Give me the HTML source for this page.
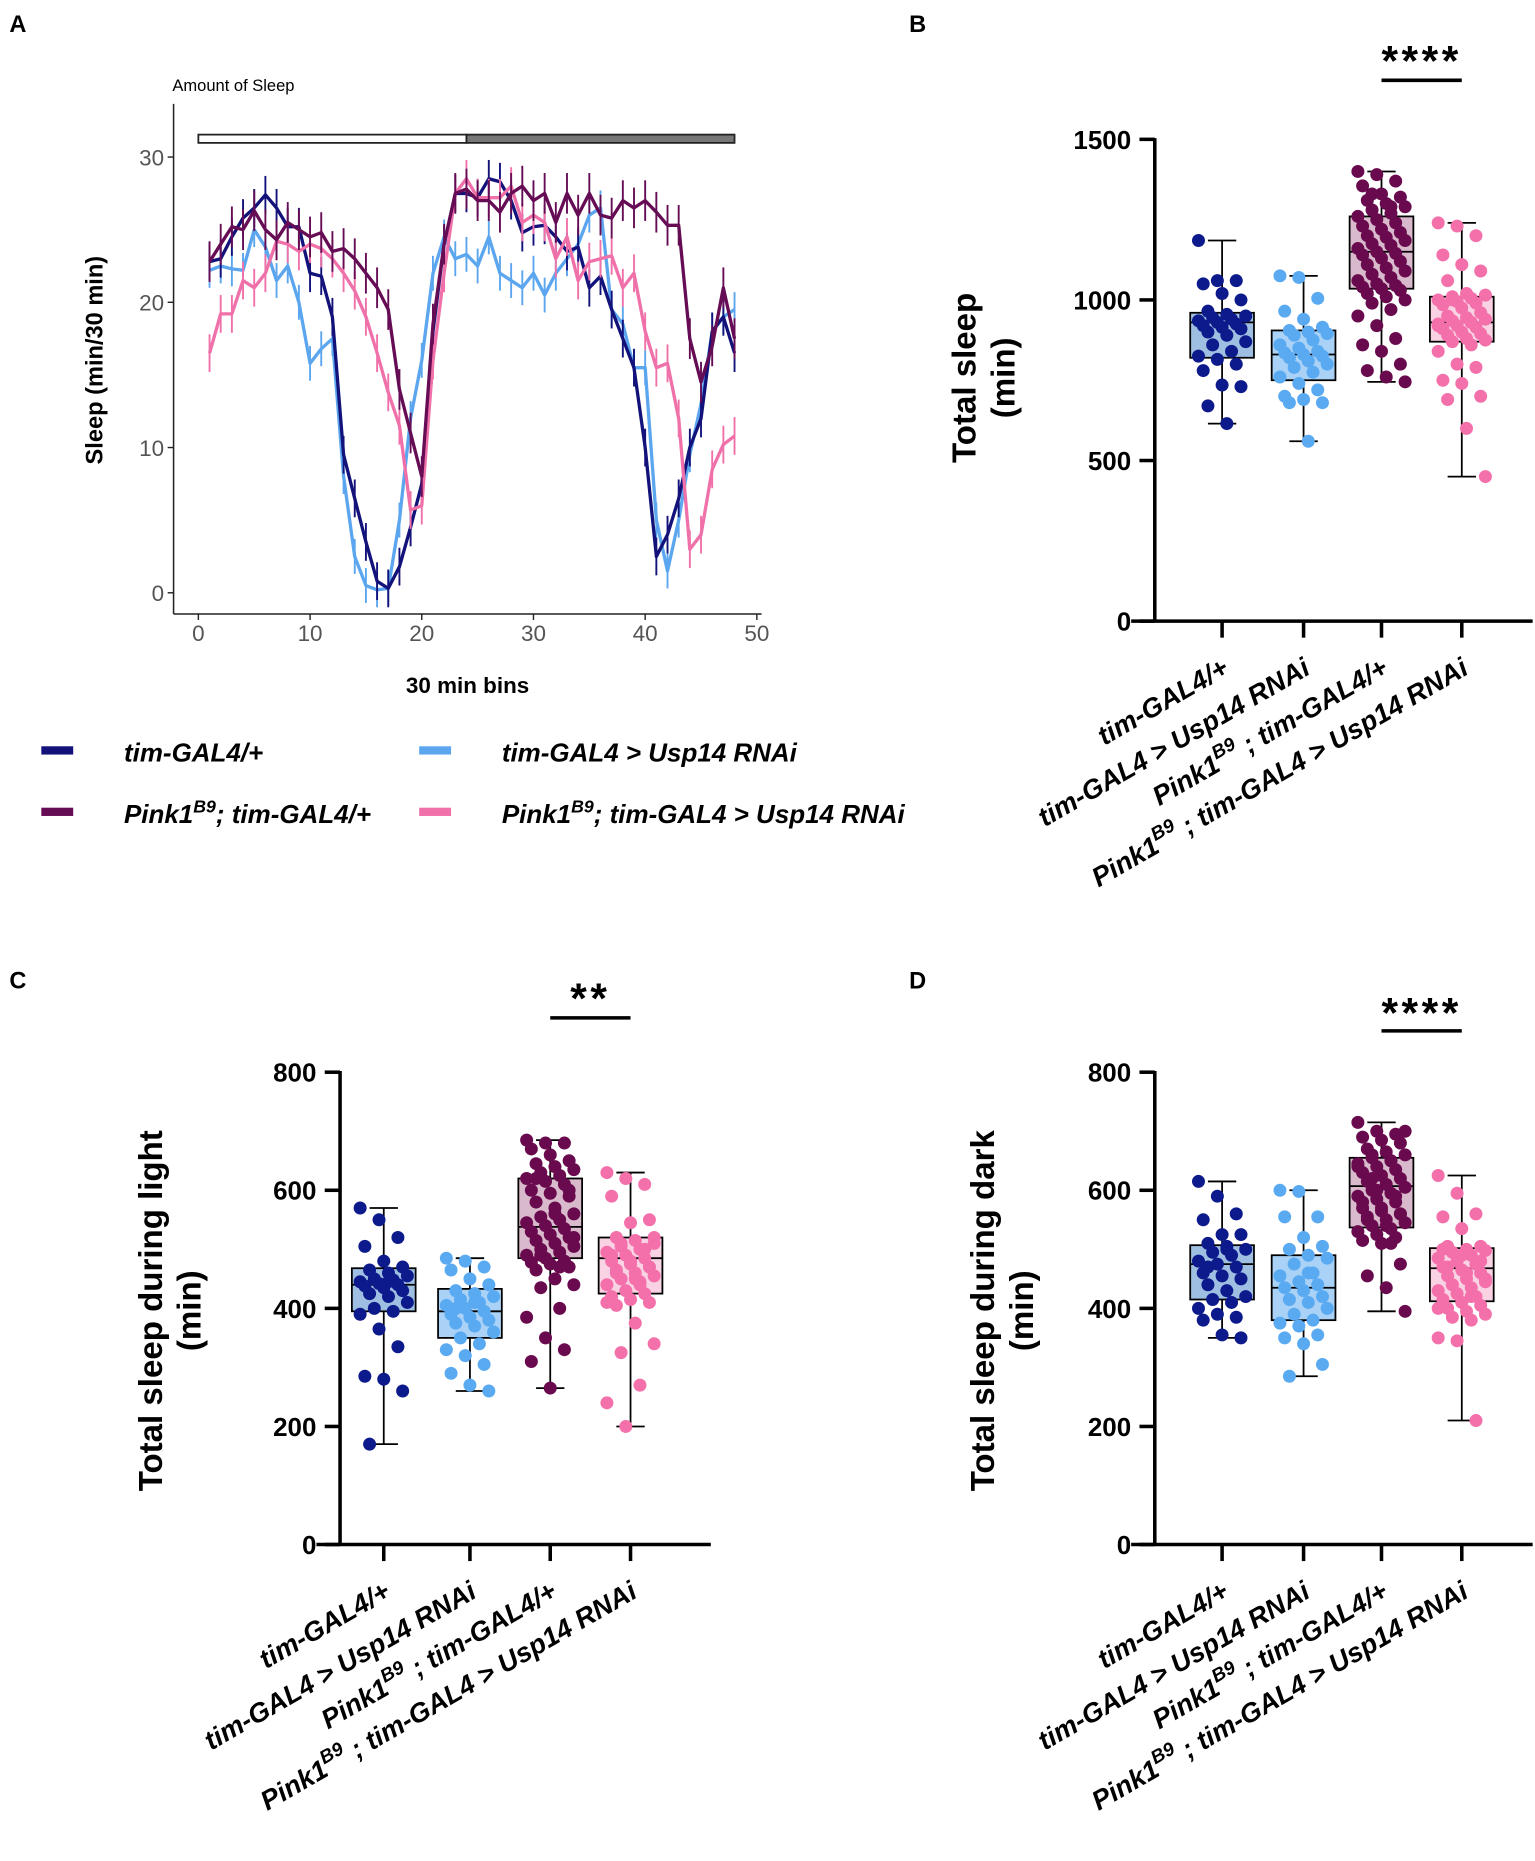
<!DOCTYPE html>
<html><head><meta charset="utf-8">
<style>
html,body{margin:0;padding:0;background:#fff;}
svg{display:block;}
text{font-family:"Liberation Sans",Arial,sans-serif;}
</style></head>
<body>
<svg id="fig" width="1535" height="1861" viewBox="0 0 1300 1576" preserveAspectRatio="none" xmlns="http://www.w3.org/2000/svg"></svg>
<script>
// ---------- Panel A data ----------
const bins = [1,2,3,4,5,6,7,8,9,10,11,12,13,14,15,16,17,18,19,20,21,22,23,24,25,26,27,28,29,30,31,32,33,34,35,36,37,38,39,40,41,42,43,44,45,46,47,48];
const timGal = [22.8,23,24.5,25.8,26.5,27.4,26.5,25.2,25.2,22,21.8,19,9.5,6.5,3.5,0.8,0.3,1.8,4.5,7.5,18,24,27.5,27.5,27.2,28.5,28.3,27,24.8,25.2,25.3,24.5,23.5,23.8,21,21.8,19.5,17.5,15.5,10,2.5,4,6.5,10,12,18,19,16.5];
const timUsp = [22.2,22.5,22.3,22.2,25,23.8,21.5,22.5,20,15.8,16.8,17.5,8,2.5,0.5,0.2,0.3,5,12,16,22,24.5,23,23.3,22.5,24.5,22,21.5,21,22,20.5,22,23,24,26,26.5,19.5,18.5,15.5,15.5,5,1.5,5,9.5,13,18,19,19.5];
const pinkTim = [22.8,24,25.2,25,26.3,25,24.3,25.5,25,24.5,24.8,23.5,23.7,23,22,21,19.5,14,11,8,18.5,24,27.5,27.8,27,27,26.2,27.5,28,27,27.5,25.5,27.5,26,27.5,26,25.8,27,26.5,27,26.2,25.3,25.3,17.5,14.5,17,21,17.5];
const pinkUsp = [16.5,19.2,19.2,21.5,21,22,24.2,24,23.5,24,23.7,23,22,20.8,19,16.5,13.8,11.5,5.7,6,16,22,27.5,28.5,27.2,27.2,27.2,28,25.5,26,25.5,23,24.5,21.5,22.8,23,23.2,21,22,18,15.5,15.8,12,3,4,8.5,10.2,10.8];
const semA = [1.3,1.2,1.4,1.3];
const xTicksA = [0,10,20,30,40,50];
const yTicksA = [0,10,20,30];

// ---------- Box-plot data ----------
const groups = ["tim-GAL4/+","tim-GAL4 > Usp14 RNAi","Pink1B9 ; tim-GAL4/+","Pink1B9 ; tim-GAL4 > Usp14 RNAi"];
const statsB = [[615,820,930,960,1185],[560,750,830,905,1075],[745,1035,1150,1260,1400],[450,870,930,1010,1240]];
const ptsB1 = [1185,1060,1060,1050,1020,1000,965,955,950,945,940,935,930,925,920,915,910,900,890,870,860,840,825,815,800,780,735,730,670,615];
const ptsB2 = [1075,1070,1005,965,940,915,905,900,895,890,875,860,850,840,835,830,825,820,810,800,790,775,760,740,720,700,690,680,680,560];
const ptsB3 = [1400,1390,1370,1355,1330,1320,1310,1300,1290,1280,1270,1260,1250,1240,1230,1220,1210,1200,1195,1185,1175,1170,1160,1150,1145,1140,1130,1120,1110,1100,1090,1080,1070,1060,1050,1045,1040,1035,1030,1020,1010,1000,990,970,950,920,880,860,840,800,780,760,745,1330,1290];
const ptsB4 = [1240,1230,1200,1140,1110,1090,1060,1020,1015,1010,1005,1000,995,990,985,975,960,950,945,940,935,930,925,920,915,910,900,895,890,880,875,870,860,840,800,790,750,740,700,690,600,450,1000,930,920];
const statsC = [[170,395,440,468,570],[260,350,395,433,485],[265,485,538,620,685],[200,425,485,520,630]];
const ptsC1 = [570,550,520,505,480,470,465,460,455,450,448,445,442,440,438,435,430,425,420,410,400,395,390,365,335,285,280,260,170,445];
const ptsC2 = [485,480,470,465,450,440,430,425,420,415,410,405,400,395,390,385,380,375,370,360,350,340,330,320,305,290,270,260,400,410];
const ptsC3 = [685,680,680,670,660,650,645,640,635,630,625,620,615,610,600,595,590,580,570,560,555,550,545,540,535,530,525,520,515,510,505,500,495,490,485,480,478,475,470,465,450,440,435,400,385,350,330,310,265,600,620,560,520,490,470];
const ptsC4 = [630,620,610,590,545,550,520,515,510,505,500,495,490,485,480,475,470,465,460,455,450,445,440,430,425,420,415,410,405,375,340,325,270,240,200,500,490,480,470,460,450,520,510,440,410];
const statsD = [[350,415,475,507,615],[285,380,435,490,600],[395,537,607,655,715],[210,412,468,502,625]];
const ptsD1 = [615,590,560,550,525,525,510,505,500,495,490,480,475,470,460,455,450,440,430,420,415,410,400,390,385,380,355,350,470,500];
const ptsD2 = [600,598,555,555,520,505,500,490,485,475,460,455,445,440,435,430,420,415,410,400,390,380,375,370,355,350,340,305,285,460];
const ptsD3 = [715,700,695,690,685,680,670,665,660,655,650,645,640,635,630,625,620,615,610,605,600,595,590,585,580,570,565,560,555,550,545,540,535,530,525,520,515,510,475,455,435,395,660,650,640,600,590,580,570,560,550,540,700,620,510];
const ptsD4 = [625,595,560,555,535,505,505,500,498,495,490,485,480,475,470,465,460,455,450,445,440,435,430,425,420,415,410,405,400,395,390,385,380,350,345,210,500,490,480,470,460,450,440,420,400];
const yTicksB = [0,500,1000,1500];
const yTicksCD = [0,200,400,600,800];

const NS="http://www.w3.org/2000/svg";
const svg=document.getElementById('fig');
function mk(tag,attrs,parent){const e=document.createElementNS(NS,tag);for(const k in attrs)e.setAttribute(k,attrs[k]);(parent||svg).appendChild(e);return e;}

const lineCols=["#12127a","#5ba6ee","#650c55","#f071aa"];
const ptCols=["#0d1a8c","#5aaaf2","#6a0a4e","#f470aa"];
const boxFill=["#9fbfe2","#a9d2f6","#d9bacd","#f9d3e4"];

// ---------- Panel A ----------
let t=mk('text',{x:8,y:27,'font-size':20,'font-weight':'bold'});t.textContent='A';


t=mk('text',{x:146,y:77,'font-size':14});t.textContent='Amount of Sleep';


const ax={x0:168,x1:641,y0:502,y30:133};
const sx=v=>ax.x0+(v/50)*(ax.x1-ax.x0);
const sy=v=>ax.y0-(v/30)*(ax.y0-ax.y30);
let l=mk('line',{x1:147,y1:88,x2:147,y2:520,stroke:'#222','stroke-width':1.3});


l=mk('line',{x1:147,y1:520,x2:645,y2:520,stroke:'#222','stroke-width':1.3});


let r=mk('rect',{x:sx(0),y:114,width:sx(24)-sx(0),height:7,fill:'#fff',stroke:'#222','stroke-width':1.5});


r=mk('rect',{x:sx(24),y:114,width:sx(48)-sx(24),height:7,fill:'#777',stroke:'#222','stroke-width':1.5});


xTicksA.forEach(v=>{
  const tk=mk('line',{x1:sx(v),y1:520,x2:sx(v),y2:525,stroke:'#222','stroke-width':1.2});
  
  
  const tl=mk('text',{x:sx(v),y:543,'font-size':19,fill:'#555','text-anchor':'middle'});tl.textContent=v;
  
  
});
yTicksA.forEach(v=>{
  const tk=mk('line',{x1:142,y1:sy(v),x2:147,y2:sy(v),stroke:'#222','stroke-width':1.2});
  
  
  const tl=mk('text',{x:139,y:sy(v)+7,'font-size':19,fill:'#555','text-anchor':'end'});tl.textContent=v;
  
  
});
t=mk('text',{x:0,y:0,'font-size':20,'font-weight':'bold','text-anchor':'middle',transform:'translate(87,305) rotate(-90)'});t.textContent='Sleep (min/30 min)';


t=mk('text',{x:396,y:587,'font-size':19,'font-weight':'bold','text-anchor':'middle'});t.textContent='30 min bins';


const seriesA=[timUsp,timGal,pinkUsp,pinkTim];
const seriesIdx=[1,0,3,2];
const seriesNames=['line-tim-usp14','line-tim-gal4','line-pink1-usp14','line-pink1-tim'];
seriesA.forEach((s,k)=>{
  const ci=seriesIdx[k];
  const g=mk('g',{});
  
  
  const d=s.map((v,i)=>(i?'L':'M')+sx(bins[i]).toFixed(1)+','+sy(v).toFixed(1)).join('');
  const p=mk('path',{d:d,fill:'none',stroke:lineCols[ci],'stroke-width':2.8,'stroke-linejoin':'round'},g);
  
  
  s.forEach((v,i)=>{
    const e=mk('line',{x1:sx(bins[i]),x2:sx(bins[i]),y1:sy(v+semA[ci]),y2:sy(v-semA[ci]),stroke:lineCols[ci],'stroke-width':1.6},g);
    
    
  });
});
// legend
const legItems=[[40,636,0,'tim-GAL4/+',null],[360,636,1,'tim-GAL4 > Usp14 RNAi',null],[40,688,2,'Pink1','; tim-GAL4/+'],[360,688,3,'Pink1','; tim-GAL4 > Usp14 RNAi']];
legItems.forEach(it=>{
  const g=mk('g',{});
  
  
  const m=mk('rect',{x:it[0]-5,y:it[1]-4,width:27,height:7,fill:lineCols[it[2]]},g);
  
  
  const tx=mk('text',{x:it[0]+65,y:it[1]+9,'font-size':22,'font-weight':'bold','font-style':'italic'},g);
  
  
  if(it[4]===null){tx.textContent=it[3];}
  else{
    tx.appendChild(document.createTextNode(it[3]));
    const sp=mk('tspan',{'font-size':15,dy:-9},tx);sp.textContent='B9';
    const sp2=mk('tspan',{dy:9},tx);sp2.textContent=it[4];
  }
});

// ---------- Box panels ----------
function boxPanel(cfg){
  const {name,letter,lx,ly,axX,yTop,yBot,xEnd,cats,ymax,ticks,stats,pts,titles,titleX,titleY,stars,starY,sigY} = cfg;
  const Y=v=>yBot-(v/ymax)*(yBot-yTop);
  let e=mk('text',{x:lx,y:ly,'font-size':20,'font-weight':'bold'});e.textContent=letter;
  
  
  e=mk('line',{x1:axX,y1:yTop-1,x2:axX,y2:yBot,stroke:'#000','stroke-width':3});
  
  
  e=mk('line',{x1:axX-20,y1:yBot,x2:xEnd,y2:yBot,stroke:'#000','stroke-width':3});
  
  
  ticks.forEach(v=>{
    const tk=mk('line',{x1:axX-13,y1:Y(v),x2:axX,y2:Y(v),stroke:'#000','stroke-width':3});
    
    
    const tl=mk('text',{x:axX-20,y:Y(v)+8,'font-size':22,'font-weight':'bold','text-anchor':'end'});tl.textContent=v;
    
    
  });
  titles.forEach((s,i)=>{
    const tt=mk('text',{x:0,y:0,'font-size':28,'font-weight':'bold','text-anchor':'middle',transform:`translate(${titleX+i*33},${titleY}) rotate(-90)`});tt.textContent=s;
    
    
  });
  cats.forEach((cx,gi)=>{
    const st=stats[gi];const bw=27;
    const g=mk('g',{});
    
    
    const tk=mk('line',{x1:cx,y1:yBot,x2:cx,y2:yBot+14,stroke:'#000','stroke-width':3},g);
    
    
    const wh=mk('line',{x1:cx,y1:Y(st[0]),x2:cx,y2:Y(st[4]),stroke:'#000','stroke-width':1.5},g);
    
    
    [st[0],st[4]].forEach(v=>{
      const cap=mk('line',{x1:cx-12,y1:Y(v),x2:cx+12,y2:Y(v),stroke:'#000','stroke-width':1.5},g);
      
      
    });
    const bx=mk('rect',{x:cx-bw,y:Y(st[3]),width:2*bw,height:Y(st[1])-Y(st[3]),fill:boxFill[gi],stroke:'#000','stroke-width':1.5},g);
    
    
    const md=mk('line',{x1:cx-bw,y1:Y(st[2]),x2:cx+bw,y2:Y(st[2]),stroke:'#000','stroke-width':1.5},g);
    
    
    pts[gi].forEach((v,i)=>{
      const off=(((i*37)%11)-5)/5*20;
      const c=mk('circle',{cx:cx+off,cy:Y(v),r:5.5,fill:ptCols[gi]},g);
      
      
    });
    const lab=mk('text',{x:0,y:0,'font-size':23,'font-weight':'bold','font-style':'italic','text-anchor':'end',transform:`translate(${cx+7},${yBot+44}) rotate(-30)`});
    
    
    const nm=groups[gi];
    if(nm.startsWith('Pink1B9')){
      lab.appendChild(document.createTextNode('Pink1'));
      const sp=mk('tspan',{'font-size':16,dy:-10},lab);sp.textContent='B9';
      const sp2=mk('tspan',{dy:10},lab);sp2.textContent=nm.slice(7);
    } else lab.textContent=nm;
  });
  e=mk('text',{x:(cats[2]+cats[3])/2,y:starY,'font-size':36,'font-weight':'bold','text-anchor':'middle','letter-spacing':3});e.textContent=stars;
  
  
  e=mk('line',{x1:cats[2],y1:sigY,x2:cats[3],y2:sigY,stroke:'#000','stroke-width':3});
  
  
}
boxPanel({name:'panel-b',letter:'B',lx:770,ly:27,axX:978,yTop:118,yBot:526,xEnd:1298,cats:[1035,1104,1170,1238],ymax:1500,ticks:yTicksB,stats:statsB,pts:[ptsB1,ptsB2,ptsB3,ptsB4],titles:['Total sleep','(min)'],titleX:826,titleY:320,stars:'****',starY:64,sigY:68});
boxPanel({name:'panel-c',letter:'C',lx:8,ly:837,axX:288,yTop:908,yBot:1308,xEnd:602,cats:[325,398,466,534],ymax:800,ticks:yTicksCD,stats:statsC,pts:[ptsC1,ptsC2,ptsC3,ptsC4],titles:['Total sleep during light','(min)'],titleX:137,titleY:1110,stars:'**',starY:858,sigY:862});
boxPanel({name:'panel-d',letter:'D',lx:770,ly:837,axX:978,yTop:908,yBot:1308,xEnd:1298,cats:[1035,1104,1170,1238],ymax:800,ticks:yTicksCD,stats:statsD,pts:[ptsD1,ptsD2,ptsD3,ptsD4],titles:['Total sleep during dark','(min)'],titleX:842,titleY:1110,stars:'****',starY:870,sigY:873});
</script>
</body></html>
